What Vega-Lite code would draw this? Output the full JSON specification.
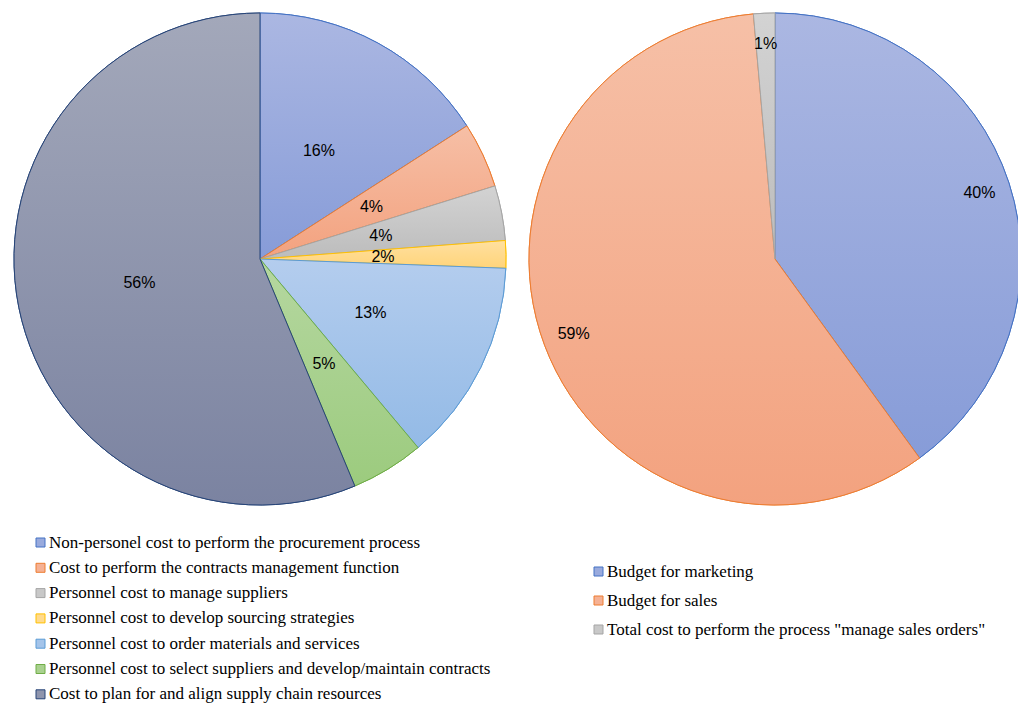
{
  "$schema": "https://vega.github.io/schema/vega-lite/v6.json",
  "padding": {"left": 12, "top": 11, "right": 0, "bottom": 0},
  "spacing": 19,
  "background": "white",
  "config": {
    "view": {"stroke": null},
    "legend": {
      "title": null,
      "orient": "none",
      "symbolType": "square",
      "symbolSize": 81,
      "symbolStrokeWidth": 1,
      "labelFont": "Liberation Serif",
      "labelFontSize": 17,
      "labelColor": "#000000",
      "labelLimit": 600,
      "labelOffset": 0
    }
  },
  "resolve": {
    "scale": {"fill": "independent", "stroke": "independent", "theta": "independent"},
    "legend": {"fill": "independent", "stroke": "independent"}
  },
  "hconcat": [
    {
      "width": 492,
      "height": 492,
      "data": {
        "values": [
          {"cat": "Non-personel cost to perform the procurement process", "v": 15.9},
          {"cat": "Cost to perform the contracts management function", "v": 4.3},
          {"cat": "Personnel cost to manage suppliers", "v": 3.6},
          {"cat": "Personnel cost to develop sourcing strategies", "v": 1.8},
          {"cat": "Personnel cost to order materials and services", "v": 13.3},
          {"cat": "Personnel cost to select suppliers and develop/maintain contracts", "v": 4.8},
          {"cat": "Cost to plan for and align supply chain resources", "v": 56.3}
        ]
      },
      "transform": [
        {"window": [{"op": "row_number", "as": "k"}]},
        {"joinaggregate": [{"op": "sum", "field": "v", "as": "tot"}]},
        {"calculate": "format(datum.v / datum.tot, '.0%')", "as": "lbl"}
      ],
      "encoding": {
        "theta": {"field": "v", "type": "quantitative", "stack": true},
        "order": {"field": "k", "type": "quantitative"},
        "stroke": {
          "field": "cat", "type": "nominal", "sort": null,
          "scale": {
            "domain": [
              "Non-personel cost to perform the procurement process",
              "Cost to perform the contracts management function",
              "Personnel cost to manage suppliers",
              "Personnel cost to develop sourcing strategies",
              "Personnel cost to order materials and services",
              "Personnel cost to select suppliers and develop/maintain contracts",
              "Cost to plan for and align supply chain resources"
            ],
            "range": ["#4472c4", "#ed7d31", "#a5a5a5", "#ffc000", "#5b9bd5", "#70ad47", "#264478"]
          },
          "legend": {"legendX": 18, "legendY": 521, "rowPadding": 7.3}
        }
      },
      "layer": [
        {
          "mark": {"type": "arc", "strokeWidth": 1},
          "encoding": {
            "fill": {
              "field": "cat", "type": "nominal", "sort": null,
              "scale": {
                "domain": [
                  "Non-personel cost to perform the procurement process",
                  "Cost to perform the contracts management function",
                  "Personnel cost to manage suppliers",
                  "Personnel cost to develop sourcing strategies",
                  "Personnel cost to order materials and services",
                  "Personnel cost to select suppliers and develop/maintain contracts",
                  "Cost to plan for and align supply chain resources"
                ],
                "range": ["#99aadd", "#f5b194", "#c8c8c8", "#ffda8d", "#a4c4ea", "#a9d18f", "#8f95ad"]
              },
              "legend": {"legendX": 18, "legendY": 521, "rowPadding": 7.3}
            }
          }
        },
        {
          "mark": {"type": "arc", "strokeWidth": 1},
          "encoding": {
            "fill": {
              "condition": [
                {"test": "datum.k == 1", "value": {"gradient": "linear", "x1": 0, "y1": 0, "x2": 0, "y2": 1, "stops": [{"offset": 0, "color": "#abb7e2"}, {"offset": 1, "color": "#879cd8"}]}},
                {"test": "datum.k == 2", "value": {"gradient": "linear", "x1": 0, "y1": 0, "x2": 0, "y2": 1, "stops": [{"offset": 0, "color": "#f6bfa6"}, {"offset": 1, "color": "#f3a27f"}]}},
                {"test": "datum.k == 3", "value": {"gradient": "linear", "x1": 0, "y1": 0, "x2": 0, "y2": 1, "stops": [{"offset": 0, "color": "#d3d3d3"}, {"offset": 1, "color": "#bcbcbc"}]}},
                {"test": "datum.k == 4", "value": {"gradient": "linear", "x1": 0, "y1": 0, "x2": 0, "y2": 1, "stops": [{"offset": 0, "color": "#ffe0a0"}, {"offset": 1, "color": "#ffd47a"}]}},
                {"test": "datum.k == 5", "value": {"gradient": "linear", "x1": 0, "y1": 0, "x2": 0, "y2": 1, "stops": [{"offset": 0, "color": "#b4cdee"}, {"offset": 1, "color": "#93bae6"}]}},
                {"test": "datum.k == 6", "value": {"gradient": "linear", "x1": 0, "y1": 0, "x2": 0, "y2": 1, "stops": [{"offset": 0, "color": "#b5d7a0"}, {"offset": 1, "color": "#9ccb7e"}]}}
              ],
              "value": {"gradient": "linear", "x1": 0, "y1": 0, "x2": 0, "y2": 1, "stops": [{"offset": 0, "color": "#a3a8ba"}, {"offset": 1, "color": "#7b83a1"}]}
            }
          }
        },
        {
          "mark": {"type": "text", "radius": 123, "font": "Liberation Sans", "fontSize": 16, "color": "#000000"},
          "encoding": {"text": {"field": "lbl", "type": "nominal"}, "stroke": {"value": null}}
        }
      ]
    },
    {
      "width": 492,
      "height": 492,
      "data": {
        "values": [
          {"cat": "Budget for marketing", "v": 40.0},
          {"cat": "Budget for sales", "v": 58.6},
          {"cat": "Total cost to perform the process \"manage sales orders\"", "v": 1.4}
        ]
      },
      "transform": [
        {"window": [{"op": "row_number", "as": "k"}]},
        {"joinaggregate": [{"op": "sum", "field": "v", "as": "tot"}]},
        {"calculate": "format(datum.v / datum.tot, '.0%')", "as": "lbl"}
      ],
      "encoding": {
        "theta": {"field": "v", "type": "quantitative", "stack": true},
        "order": {"field": "k", "type": "quantitative"},
        "stroke": {
          "field": "cat", "type": "nominal", "sort": null,
          "scale": {
            "domain": ["Budget for marketing", "Budget for sales", "Total cost to perform the process \"manage sales orders\""],
            "range": ["#4472c4", "#ed7d31", "#a5a5a5"]
          },
          "legend": {"legendX": 61, "legendY": 550, "rowPadding": 11}
        }
      },
      "layer": [
        {
          "mark": {"type": "arc", "strokeWidth": 1},
          "encoding": {
            "fill": {
              "field": "cat", "type": "nominal", "sort": null,
              "scale": {
                "domain": ["Budget for marketing", "Budget for sales", "Total cost to perform the process \"manage sales orders\""],
                "range": ["#99aadd", "#f5b194", "#c8c8c8"]
              },
              "legend": {"legendX": 61, "legendY": 550, "rowPadding": 11}
            }
          }
        },
        {
          "mark": {"type": "arc", "strokeWidth": 1},
          "encoding": {
            "fill": {
              "condition": [
                {"test": "datum.k == 1", "value": {"gradient": "linear", "x1": 0, "y1": 0, "x2": 0, "y2": 1, "stops": [{"offset": 0, "color": "#abb7e2"}, {"offset": 1, "color": "#879cd8"}]}},
                {"test": "datum.k == 2", "value": {"gradient": "linear", "x1": 0, "y1": 0, "x2": 0, "y2": 1, "stops": [{"offset": 0, "color": "#f6c0a7"}, {"offset": 1, "color": "#f3a27f"}]}}
              ],
              "value": {"gradient": "linear", "x1": 0, "y1": 0, "x2": 0, "y2": 1, "stops": [{"offset": 0, "color": "#d3d3d3"}, {"offset": 1, "color": "#bcbcbc"}]}
            }
          }
        },
        {
          "mark": {"type": "text", "radius": 215, "font": "Liberation Sans", "fontSize": 16, "color": "#000000"},
          "encoding": {"text": {"field": "lbl", "type": "nominal"}, "stroke": {"value": null}}
        }
      ]
    }
  ]
}
